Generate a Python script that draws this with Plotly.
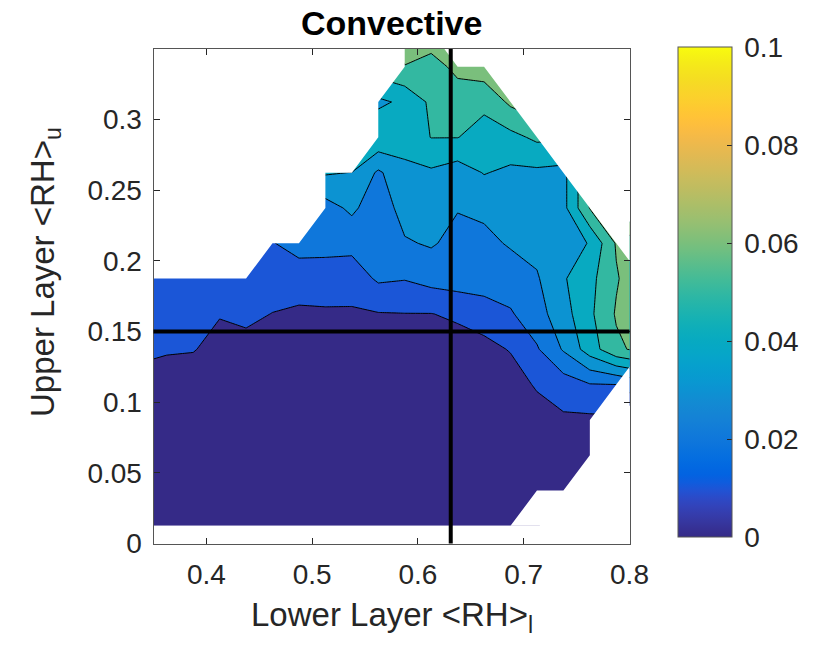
import numpy as np
import plotly.graph_objects as go

# ---------------- data ----------------
x_grid = [0.3375, 0.3625, 0.3875, 0.4125, 0.4375, 0.4625, 0.4875, 0.5125, 0.5375, 0.5625,
          0.5875, 0.6125, 0.6375, 0.6625, 0.6875, 0.7125, 0.7375, 0.7625, 0.7875, 0.8125]
y_grid = [0.0125, 0.0375, 0.0625, 0.0875, 0.1125, 0.1375, 0.1625, 0.1875, 0.2125, 0.2375,
          0.2625, 0.2875, 0.3125, 0.3375, 0.3625]
N = None
z_rows = [
    [0.003, 0.003, 0.003, 0.002, 0.002, 0.002, 0.002, 0.002, 0.002, 0.002, 0.002, 0.002, 0.002, 0.002, 0.002, N, N, N, N, N],
    [0.003, 0.003, 0.003, 0.003, 0.003, 0.002, 0.002, 0.002, 0.002, 0.002, 0.002, 0.002, 0.002, 0.002, 0.002, 0.003, 0.003, N, N, N],
    [0.004, 0.003, 0.003, 0.003, 0.003, 0.003, 0.003, 0.003, 0.003, 0.003, 0.003, 0.003, 0.003, 0.003, 0.003, 0.004, 0.005, 0.004, N, N],
    [0.004, 0.004, 0.004, 0.004, 0.003, 0.003, 0.003, 0.003, 0.003, 0.003, 0.003, 0.003, 0.003, 0.003, 0.004, 0.006, 0.0085, 0.008, N, N],
    [0.006, 0.005, 0.005, 0.004, 0.004, 0.004, 0.004, 0.004, 0.004, 0.004, 0.004, 0.004, 0.004, 0.004, 0.006, 0.011, 0.015, 0.0195, 0.020, N],
    [0.0125, 0.011, 0.0105, 0.007, 0.007, 0.006, 0.005, 0.005, 0.005, 0.005, 0.005, 0.005, 0.006, 0.0075, 0.0105, 0.019, 0.031, 0.045, 0.058, 0.063],
    [0.014, 0.014, 0.015, 0.0105, 0.012, 0.0098, 0.0085, 0.009, 0.0088, 0.0095, 0.0098, 0.0098, 0.0115, 0.014, 0.019, 0.026, 0.036, 0.048, 0.061, 0.068],
    [0.016, 0.017, 0.018, 0.017, 0.016, 0.0145, 0.0145, 0.014, 0.0145, 0.0215, 0.0205, 0.0235, 0.025, 0.026, 0.025, 0.029, 0.039, 0.047, 0.059, 0.068],
    [N, N, N, N, N, 0.0195, 0.024, 0.024, 0.023, 0.023, 0.029, 0.031, 0.027, 0.0275, 0.031, 0.033, 0.036, 0.0405, 0.061, N],
    [N, N, N, N, N, N, N, 0.026, 0.032, 0.024, 0.034, 0.035, 0.0305, 0.032, 0.035, 0.035, 0.037, 0.0605, N, N],
    [N, N, N, N, N, N, N, 0.041, 0.0398, 0.0285, 0.037, 0.0385, 0.035, 0.0405, 0.038, 0.038, 0.037, N, N, N],
    [N, N, N, N, N, N, N, N, N, 0.048, 0.045, 0.0502, 0.0502, 0.0465, 0.047, 0.052, N, N, N, N],
    [N, N, N, N, N, N, N, N, N, 0.038, 0.042, 0.052, 0.056, 0.052, 0.062, N, N, N, N, N],
    [N, N, N, N, N, N, N, N, N, N, 0.0598, 0.057, 0.062, 0.066, N, N, N, N, N, N],
    [N, N, N, N, N, N, N, N, N, N, 0.064, 0.065, N, N, N, N, N, N, N, N],
]
contour_levels = dict(start=0.01, end=0.1, size=0.01)
color_min, color_max = 0.0, 0.1
colorbar_ticks = [0, 0.02, 0.04, 0.06, 0.08, 0.1]
colorbar_ticktext = ["0", "0.02", "0.04", "0.06", "0.08", "0.1"]
x_ticks = [0.4, 0.5, 0.6, 0.7, 0.8]
x_ticktext = ["0.4", "0.5", "0.6", "0.7", "0.8"]
y_ticks = [0, 0.05, 0.1, 0.15, 0.2, 0.25, 0.3]
y_ticktext = ["0", "0.05", "0.1", "0.15", "0.2", "0.25", "0.3"]
x_range = [0.35, 0.8]
y_range = [0.0, 0.35]
ref_x = 0.631   # vertical reference line (lower layer RH)
ref_y = 0.15    # horizontal reference line (upper layer RH)

# parula colormap (MATLAB)
parula_rgb = [
    (0.2081, 0.1663, 0.5292), (0.2116, 0.1898, 0.5777), (0.2123, 0.2138, 0.6270), (0.2081, 0.2386, 0.6771),
    (0.1959, 0.2645, 0.7279), (0.1707, 0.2919, 0.7792), (0.1253, 0.3242, 0.8303), (0.0591, 0.3598, 0.8683),
    (0.0117, 0.3875, 0.8820), (0.0060, 0.4086, 0.8828), (0.0165, 0.4266, 0.8786), (0.0329, 0.4430, 0.8720),
    (0.0498, 0.4586, 0.8641), (0.0629, 0.4737, 0.8554), (0.0723, 0.4887, 0.8467), (0.0779, 0.5040, 0.8384),
    (0.0793, 0.5200, 0.8312), (0.0749, 0.5375, 0.8263), (0.0641, 0.5570, 0.8240), (0.0488, 0.5772, 0.8228),
    (0.0343, 0.5966, 0.8199), (0.0265, 0.6137, 0.8135), (0.0239, 0.6287, 0.8038), (0.0231, 0.6418, 0.7913),
    (0.0228, 0.6535, 0.7768), (0.0267, 0.6642, 0.7607), (0.0384, 0.6743, 0.7436), (0.0590, 0.6838, 0.7254),
    (0.0843, 0.6928, 0.7062), (0.1133, 0.7015, 0.6859), (0.1453, 0.7098, 0.6646), (0.1801, 0.7177, 0.6424),
    (0.2178, 0.7250, 0.6193), (0.2586, 0.7317, 0.5954), (0.3022, 0.7376, 0.5712), (0.3482, 0.7424, 0.5473),
    (0.3953, 0.7459, 0.5244), (0.4420, 0.7481, 0.5033), (0.4871, 0.7491, 0.4840), (0.5300, 0.7491, 0.4661),
    (0.5709, 0.7485, 0.4494), (0.6099, 0.7473, 0.4337), (0.6473, 0.7456, 0.4188), (0.6834, 0.7435, 0.4044),
    (0.7184, 0.7411, 0.3905), (0.7525, 0.7384, 0.3768), (0.7858, 0.7356, 0.3633), (0.8185, 0.7327, 0.3498),
    (0.8507, 0.7299, 0.3360), (0.8824, 0.7274, 0.3217), (0.9139, 0.7258, 0.3063), (0.9450, 0.7261, 0.2886),
    (0.9739, 0.7314, 0.2666), (0.9938, 0.7455, 0.2403), (0.9990, 0.7653, 0.2164), (0.9955, 0.7861, 0.1967),
    (0.9880, 0.8066, 0.1794), (0.9789, 0.8271, 0.1633), (0.9697, 0.8481, 0.1475), (0.9626, 0.8705, 0.1309),
    (0.9589, 0.8949, 0.1132), (0.9598, 0.9218, 0.0948), (0.9661, 0.9514, 0.0755), (0.9763, 0.9831, 0.0538),
]
parula = [[i / (len(parula_rgb) - 1), "rgb(%d,%d,%d)" % tuple(round(c * 255) for c in rgb)]
          for i, rgb in enumerate(parula_rgb)]

# ---------------- processing ----------------
xs = np.array(x_grid)
ys = np.array(y_grid)
Z = np.array([[np.nan if v is None else v for v in row] for row in z_rows], dtype=float)
valid = ~np.isnan(Z)
ny, nx = Z.shape

# Missing nodes that close a 3-valid cell: planar continuation so that the
# rectangle contouring reproduces the triangular interpolation used in the original.
Zc = Z.copy()
est = {}
for i in range(ny - 1):
    for j in range(nx - 1):
        cs = [(i, j), (i, j + 1), (i + 1, j + 1), (i + 1, j)]
        vv = [valid[c] for c in cs]
        if sum(vv) == 3:
            k = vv.index(False)
            a, b, o = cs[(k - 1) % 4], cs[(k + 1) % 4], cs[(k + 2) % 4]
            est.setdefault(cs[k], []).append(Z[a] + Z[b] - Z[o])
for node, vals in est.items():
    Zc[node] = float(np.mean(vals))
z_plot = [[None if np.isnan(v) else float(v) for v in row] for row in Zc]

# white mask over the cells without data
mx, my = [], []
for i in range(ny - 1):
    for j in range(nx - 1):
        cs = [(i, j), (i, j + 1), (i + 1, j + 1), (i + 1, j)]
        vv = [valid[c] for c in cs]
        n = sum(vv)
        if n == 4:
            continue
        if n <= 2:
            poly = cs
        else:
            k = vv.index(False)
            poly = [cs[(k - 1) % 4], cs[k], cs[(k + 1) % 4]]
        for (a, b) in poly + [poly[0]]:
            mx.append(float(xs[b]))
            my.append(float(ys[a]))
        mx.append(None)
        my.append(None)

# ---------------- figure ----------------
W, H = 823, 655
L, R, T, B = 153.5, 629.5, 49.0, 543.5
FONT = "Liberation Sans, Arial, Helvetica, sans-serif"
TXT = "#262626"
FRAME = "#555555"
TICK_SIZE = 28
LABEL_SIZE = 34

fig = go.Figure()
fig.add_trace(go.Contour(
    x=x_grid, y=y_grid, z=z_plot,
    autocontour=False,
    contours=dict(start=contour_levels["start"], end=contour_levels["end"],
                  size=contour_levels["size"], coloring="fill"),
    colorscale=parula, showscale=False,
    line=dict(color="black", width=1, smoothing=0),
    hoverinfo="skip",
))
fig.add_trace(go.Scatter(
    x=mx, y=my, mode="lines", fill="toself", fillcolor="white",
    line=dict(width=0, color="white"), hoverinfo="skip", showlegend=False,
))
# colorbar (continuous parula); the carrier heatmap itself is invisible
fig.add_trace(go.Heatmap(
    z=[[color_min, color_max]], xaxis="x2", yaxis="y2", opacity=0,
    colorscale=parula, zmin=color_min, zmax=color_max, hoverinfo="skip",
    colorbar=dict(
        x=678 / W, xanchor="left", y=1 - 537 / H, yanchor="bottom",
        len=490 / H, lenmode="fraction", thickness=54, thicknessmode="pixels",
        xpad=0, ypad=0, outlinewidth=1, outlinecolor=FRAME,
        tickmode="array", tickvals=colorbar_ticks,
        ticktext=["\u2009" + t for t in colorbar_ticktext],
        ticks="inside", ticklen=5, tickcolor=TXT,
        tickfont=dict(family=FONT, size=TICK_SIZE, color=TXT),
    ),
))

axis_common = dict(showgrid=False, zeroline=False, showline=True, linecolor=FRAME, linewidth=1,
                   mirror="ticks", ticks="inside", ticklen=6, tickcolor=TXT, tickwidth=1,
                   tickfont=dict(family=FONT, size=TICK_SIZE, color=TXT), automargin=False)
fig.update_layout(
    width=W, height=H, margin=dict(l=0, r=0, t=0, b=0),
    paper_bgcolor="white", plot_bgcolor="white", showlegend=False,
    xaxis=dict(range=x_range, domain=[L / W, R / W], tickmode="array", tickvals=x_ticks,
               ticktext=x_ticktext, ticklabelstandoff=6, **axis_common),
    yaxis=dict(range=y_range, domain=[1 - B / H, 1 - T / H], tickmode="array", tickvals=y_ticks,
               ticktext=y_ticktext, ticklabelstandoff=5, **axis_common),
    xaxis2=dict(visible=False, domain=[0, 0.01], anchor="y2"),
    yaxis2=dict(visible=False, domain=[0, 0.01], anchor="x2"),
    shapes=[
        dict(type="line", xref="x", yref="y domain", x0=ref_x, x1=ref_x, y0=0, y1=1,
             line=dict(color="black", width=4)),
        dict(type="line", xref="x domain", yref="y", x0=0, x1=1, y0=ref_y, y1=ref_y,
             line=dict(color="black", width=4)),
    ],
    annotations=[
        dict(text="<b>Convective</b>", xref="paper", yref="paper", x=(L + R) / 2 / W, y=1 - 23 / H,
             showarrow=False, xanchor="center", yanchor="middle",
             font=dict(family=FONT, size=LABEL_SIZE, color="black")),
        dict(text="Lower Layer &lt;RH&gt;<sub>l</sub>", xref="paper", yref="paper",
             x=(L + R) / 2 / W, y=0, showarrow=False, xanchor="center", yanchor="bottom",
             yshift=15, font=dict(family=FONT, size=33, color=TXT)),
        dict(text="Upper Layer &lt;RH&gt;<sub>u</sub>", xref="paper", yref="paper",
             x=45 / W, y=1 - 272 / H, showarrow=False, xanchor="center", yanchor="middle",
             textangle=-90, font=dict(family=FONT, size=33, color=TXT)),
    ],
)
fig.write_html("out.html")
